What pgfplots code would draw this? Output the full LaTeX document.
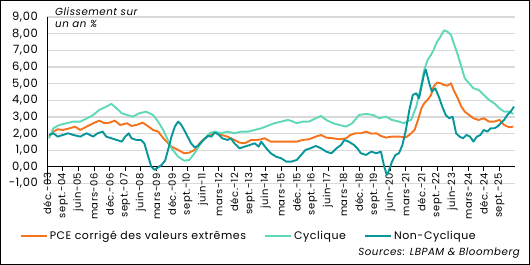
\documentclass[border=0pt]{standalone}
\usepackage{pgfplots}
\pgfplotsset{compat=1.18}
\usepackage{fontspec}
\setmainfont{Poppins}[LetterSpace=5]

\definecolor{pceorange}{HTML}{F4731C}
\definecolor{cyclique}{HTML}{5ED8B8}
\definecolor{noncyc}{HTML}{08969A}
\definecolor{gridgray}{HTML}{D9D9D9}

\begin{document}
\begin{tikzpicture}
\useasboundingbox (0bp,0bp) rectangle (530bp,265bp);
\begin{axis}[
  at={(47.3bp,81.4bp)}, anchor=south west,
  scale only axis, width=467.7bp, height=166.6bp,
  xmin=0, xmax=270, ymin=-1, ymax=9,
  axis x line=middle, axis y line=left,
  axis line style={-, black, line width=1bp},
  hide obscured x ticks=false, hide obscured y ticks=false,
  ytick={-1,0,...,9},
  ymajorgrids, grid style={gridgray, line width=1.1bp},
  ytick style={draw=none},
  yticklabel style={font=\fontsize{11.5}{12}\selectfont, xshift=-2bp},
  /pgf/number format/.cd, fixed, fixed zerofill, precision=2, use comma, assume math mode=true,
  /pgfplots/.cd,
  xtick={0,9,...,261},
  xticklabels={déc.-03,sept.-04,juin-05,mars-06,déc.-06,sept.-07,juin-08,mars-09,déc.-09,sept.-10,juin-11,mars-12,déc.-12,sept.-13,juin-14,mars-15,déc.-15,sept.-16,juin-17,mars-18,déc.-18,sept.-19,juin-20,mars-21,déc.-21,sept.-22,juin-23,mars-24,déc.-24,sept.-25},
  xtick style={black, line width=0.8bp},
  tick align=outside, major tick length=4bp,
  xticklabel style={rotate=90, anchor=east, font=\fontsize{10}{10}\selectfont, xshift=1.5bp},
  legend columns=3,
  legend style={at={(axis description cs:-0.066,-0.314)}, anchor=west, draw=none, fill=none,
    font=\fontsize{11}{12}\selectfont,
    /tikz/every even column/.append style={column sep=16bp}},
  legend image code/.code={\draw[#1, line width=2.2bp] (0bp,0bp) -- (26bp,0bp);},
  every axis plot/.append style={line width=1.9bp, line join=round},
]
% PCE corrigé des valeurs extrêmes
\addplot[pceorange] coordinates {
(1,1.82)(3.5,2.12)(6,2.26)(9,2.22)(13,2.32)(16,2.42)(19,2.22)(22.7,2.42)(26.5,2.62)
(30,2.78)(33,2.62)(36,2.66)(39,2.78)(42,2.52)(46,2.62)(48.6,2.46)(51.5,2.52)(55,2.66)
(58,2.46)(61,2.22)(64,2.12)(67,1.72)(68.5,1.55)(71.7,1.22)(75.5,1.02)(79,0.82)(82,0.86)
(85,1.02)(88,1.42)(91,1.72)(93.7,1.92)(96.6,2.06)(100.5,1.92)(104,1.82)(108,1.62)
(111,1.46)(114,1.42)(117.7,1.62)(121.6,1.62)(125.4,1.72)(129,1.52)(133,1.52)(137,1.52)
(142,1.52)(144,1.52)(147.5,1.62)(151,1.66)(155,1.82)(158,1.92)(161,1.76)(165,1.72)
(168.6,1.66)(172.5,1.72)(175,1.92)(178,2.02)(181,2.02)(184,2.12)(187,2.0)(190,2.02)
(192.6,1.86)(195.5,1.76)(199,1.82)(203,1.82)(207,1.78)(209,1.92)(212,2.22)(214,2.82)
(216,3.52)(217.6,3.82)(219.5,4.02)(221.5,4.32)(223,4.82)(225,5.06)(227,5.02)(229,4.92)
(231,4.88)(233,5.02)(235,4.52)(237,4.12)(239,3.62)(241,3.32)(243.5,3.12)(246,2.92)
(249,2.82)(252,2.92)(255,2.72)(258,2.72)(261,2.82)(263.7,2.52)(266.6,2.38)(269,2.42)
};
\addlegendentry{PCE corrigé des valeurs extrêmes}
% Cyclique
\addplot[cyclique] coordinates {
(1,1.72)(3.5,2.32)(7,2.52)(11,2.62)(15,2.72)(19,2.72)(23,2.92)(26.5,3.12)(30,3.42)
(34,3.62)(37,3.78)(40,3.52)(43,3.22)(46,3.12)(49.5,3.02)(53,3.22)(57,3.32)(61,3.12)
(64,2.72)(67,2.2)(69,1.75)(71.7,1.12)(75.5,0.62)(79,0.38)(82,0.42)(85,0.82)(88,1.32)
(91,1.72)(93.7,2.02)(96.6,2.12)(100.5,2.02)(104,2.12)(108,2.02)(112,2.12)(116,2.12)
(119.7,2.22)(123.5,2.32)(127,2.46)(131,2.62)(135,2.72)(139,2.82)(142,2.72)(144,2.62)
(147.5,2.72)(151,2.72)(155,2.92)(158,3.06)(161,2.82)(165,2.62)(168.6,2.52)(172.5,2.42)
(176,2.62)(180,3.12)(184,3.18)(188,3.12)(191.7,2.92)(195.5,3.02)(199,2.82)(203,2.72)
(206,2.62)(208,2.75)(210,2.82)(213,3.62)(215.7,4.82)(217.6,5.82)(219.5,6.42)(221.5,6.72)
(223,7.02)(225,7.52)(227,7.82)(229,8.2)(231,8.12)(233,7.92)(235,7.32)(237,6.72)
(239,6.02)(241,5.32)(243.5,5.02)(246,4.72)(249,4.62)(252,4.32)(255,4.02)(258,3.82)
(261,3.52)(263.7,3.32)(266.6,3.32)(269,3.18)
};
\addlegendentry{Cyclique}
% Non-Cyclique
\addplot[noncyc] coordinates {
(1,1.92)(3.5,2.02)(6,1.82)(9,1.92)(12,2.02)(15,1.92)(19,1.82)(22.7,2.02)(26.5,1.82)
(29,2.02)(32,2.12)(34,1.82)(37,1.72)(40,1.62)(43,1.52)(45,1.82)(47,2.02)(48.6,1.72)
(51.5,1.62)(54,1.62)(56,1.42)(58,0.72)(60,0.02)(62,-0.18)(64,-0.02)(66,0.12)(68,0.38)
(69.7,1.02)(71.7,1.82)(73.6,2.42)(75.5,2.72)(77.4,2.52)(79,2.22)(81,1.82)(83,1.42)
(85,1.18)(87,1.26)(90,1.62)(92.8,1.86)(94.7,1.82)(96.6,2.06)(98.5,1.98)(101,1.72)
(104,1.62)(106,1.72)(108,1.42)(111,1.12)(114,1.22)(117,1.32)(119.7,1.42)(122,1.22)
(123.5,1.52)(126.4,1.12)(129,0.82)(132,0.62)(135,0.52)(138,0.32)(141,0.32)(144,0.42)
(146.6,0.72)(149,1.02)(152,1.12)(155,1.26)(158,1.12)(161,0.92)(164,0.82)(167,1.12)
(169.6,1.32)(171.5,1.62)(174,1.52)(177,1.32)(179,1.12)(181,0.82)(184,0.72)(187,0.92)
(190,0.82)(192.6,0.92)(194.5,0.02)(196,-0.48)(197,-0.28)(199,0.32)(201,0.72)(203,0.82)
(205,1.32)(207,2.22)(209,3.42)(211,4.32)(213,4.42)(214.6,4.12)(216,4.82)(217.6,5.62)
(218.5,5.85)(220.5,5.02)(222,4.52)(224,4.72)(226,4.22)(228,3.62)(230,3.12)(232,2.92)
(234,3.02)(236,2.02)(238,1.82)(240,1.72)(242,1.92)(244,1.82)(246,1.52)(248,1.82)
(250,1.92)(252,2.22)(254,2.12)(256,2.32)(258,2.32)(259.8,2.42)(261.7,2.62)(263.7,2.82)
(265.6,3.12)(267.5,3.32)(269.4,3.62)
};
\addlegendentry{Non-Cyclique}
\end{axis}
% unit label, top left of the plot
\node[anchor=north west, align=left, inner sep=0pt, font=\fontsize{10.3}{12.5}\selectfont\itshape]
  at (55bp,258bp) {Glissement sur\\un an \%};
% source line
\node[anchor=east, inner sep=0pt, font=\fontsize{10.3}{12}\selectfont\itshape]
  at (520bp,12bp) {Sources: LBPAM \& Bloomberg};
% frame round the chart
\draw[black, line width=1bp] (0.5bp,0.5bp) rectangle (529.5bp,264.5bp);
\end{tikzpicture}
\end{document}
